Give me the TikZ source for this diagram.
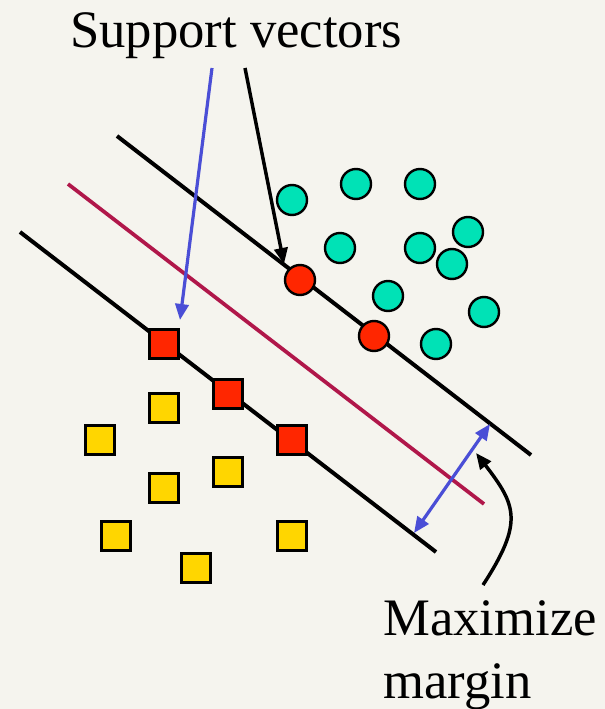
\documentclass[tikz,border=0pt]{standalone}
\usepackage{fontspec}
\setmainfont{Liberation Serif}
\usetikzlibrary{arrows.meta}
\definecolor{bg}{HTML}{F5F4EE}
\definecolor{tealdot}{HTML}{00E2B6}
\definecolor{svred}{HTML}{FF2600}
\definecolor{gold}{HTML}{FFD600}
\definecolor{arrowblue}{HTML}{4A4ED6}
\definecolor{crimson}{HTML}{B0174A}
\tikzset{
  posdot/.style={circle, draw=black, line width=1.8pt, fill=tealdot, minimum size=22.5pt, inner sep=0pt},
  posdotsv/.style={posdot, fill=svred},
  negbox/.style={rectangle, draw=black, line width=1.8pt, fill=gold, minimum size=22pt, inner sep=0pt},
  negboxsv/.style={negbox, fill=svred},
  hyperline/.style={line width=3pt, black},
  sepline/.style={line width=2.8pt, crimson},
  arrtip/.style={-{Triangle[length=12pt,width=10pt]}},
  darrtip/.style={{Triangle[length=12pt,width=10pt]}-{Triangle[length=12pt,width=10pt]}},
  lbl/.style={font=\fontsize{39.5}{47.25}\selectfont, inner sep=0pt}
}
\begin{document}
\begin{tikzpicture}[x=0.75pt,y=-0.75pt]
\useasboundingbox (0,0) rectangle (605,709);
\fill[bg] (0,0) rectangle (605,709);

% lines
\coordinate (u1) at (117,136); \coordinate (u2) at (531,455);
\coordinate (m1) at (68,184);  \coordinate (m2) at (484,504);
\coordinate (l1) at (20,232);  \coordinate (l2) at (436,552);
\draw[hyperline] (u1) -- (u2);
\draw[sepline] (m1) -- (m2);
\draw[hyperline] (l1) -- (l2);

% positive class
\node[posdot] (c1) at (292,200) {};
\node[posdot] (c2) at (356,184) {};
\node[posdot] (c3) at (420,184) {};
\node[posdot] (c4) at (468,232) {};
\node[posdot] (c5) at (340,248) {};
\node[posdot] (c6) at (420,248) {};
\node[posdot] (c7) at (452,264) {};
\node[posdot] (c8) at (388,296) {};
\node[posdot] (c9) at (484,312) {};
\node[posdot] (c10) at (436,344) {};
\node[posdotsv] (s1) at (300,280) {};
\node[posdotsv] (s2) at (374,336) {};

% negative class
\node[negboxsv] (q1) at (164,344) {};
\node[negboxsv] (q2) at (228,394) {};
\node[negboxsv] (q3) at (292,440) {};
\node[negbox] (y1) at (164,408) {};
\node[negbox] (y2) at (100,440) {};
\node[negbox] (y3) at (228,472) {};
\node[negbox] (y4) at (164,488) {};
\node[negbox] (y5) at (116,536) {};
\node[negbox] (y6) at (292,536) {};
\node[negbox] (y7) at (196,568) {};

% labels
\node[lbl, anchor=base west] (sv) at (70,48) {Support vectors};
\node[lbl, anchor=base west, align=left] (mm) at (383,698) {Maximize\\margin};

% arrows
\coordinate (bstart) at (212,68);
\coordinate (bend) at (180,320);
\coordinate (kstart) at (245,68);
\coordinate (kend) at (284,264);
\draw[arrtip, line width=2.4pt, arrowblue] (bstart) -- (bend);
\draw[arrtip, line width=2.6pt, black] (kstart) -- (kend);

\coordinate (ma) at (490,424);
\coordinate (mb) at (414,533);
\draw[darrtip, line width=2.4pt, arrowblue] (mb) -- (ma);

\coordinate (cs) at (483,585);
\coordinate (ce) at (476,453);
\draw[arrtip, line width=2.6pt, black] (cs) .. controls (524,522) and (516,505) .. (ce);
\end{tikzpicture}
\end{document}
